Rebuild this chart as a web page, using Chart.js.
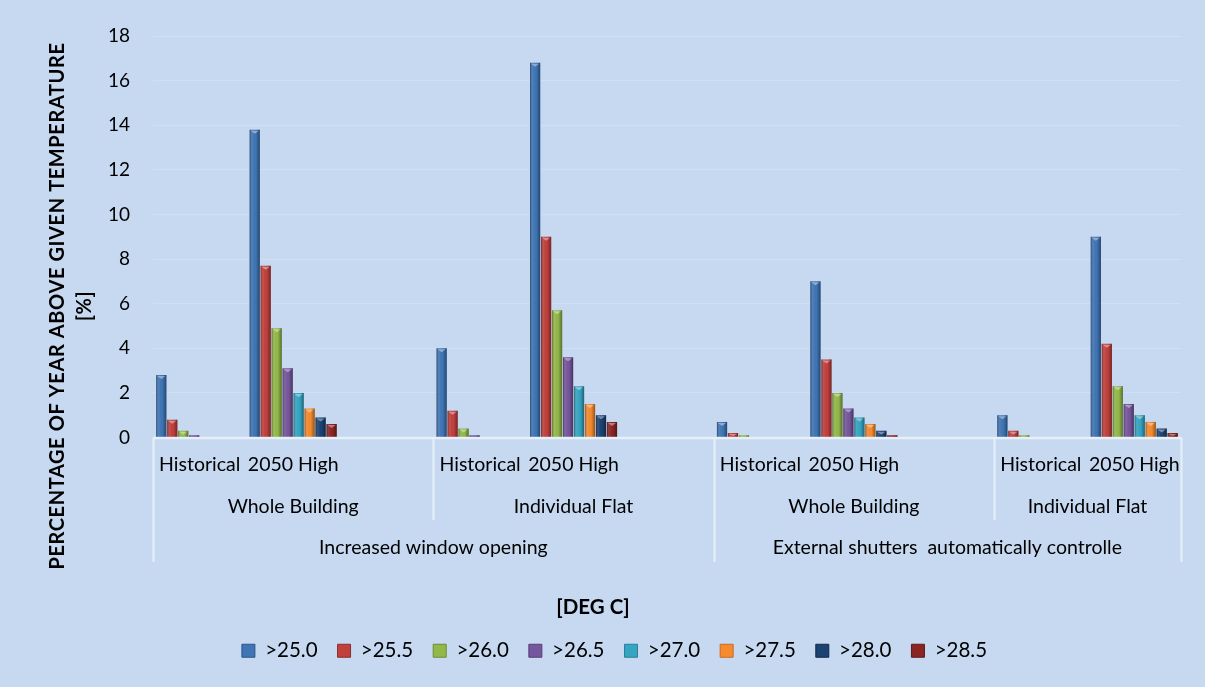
<!DOCTYPE html>
<html>
<head>
<meta charset="utf-8">
<script src="https://cdn.jsdelivr.net/npm/chart.js@4"></script>
<style>
  html, body { margin: 0; padding: 0; background: #C6D9F1; }
  #wrap { width: 1205px; height: 687px; position: relative; }
</style>
</head>
<body>
<div id="wrap"><canvas id="c" width="1205" height="687"></canvas></div>
<script>
// Category hierarchy of the horizontal axis
const climates = ['Historical', '2050 High'];
const scopes = ['Whole Building', 'Individual Flat'];
const measures = ['Increased window opening', 'External shutters  automatically controlle'];

// Threshold series (percentage of the year above each temperature)
const seriesNames = ['>25.0', '>25.5', '>26.0', '>26.5', '>27.0', '>27.5', '>28.0', '>28.5'];
// order of values: window/whole hist, window/whole 2050, window/flat hist, window/flat 2050,
//                  shutters/whole hist, shutters/whole 2050, shutters/flat hist, shutters/flat 2050
const above250 = [2.8, 13.8, 4.0, 16.8, 0.7, 7.0, 1.0, 9.0];
const above255 = [0.8, 7.7, 1.2, 9.0, 0.2, 3.5, 0.3, 4.2];
const above260 = [0.3, 4.9, 0.4, 5.7, 0.1, 2.0, 0.1, 2.3];
const above265 = [0.1, 3.1, 0.1, 3.6, 0, 1.3, 0, 1.5];
const above270 = [0, 2.0, 0, 2.3, 0, 0.9, 0, 1.0];
const above275 = [0, 1.3, 0, 1.5, 0, 0.6, 0, 0.7];
const above280 = [0, 0.9, 0, 1.0, 0, 0.3, 0, 0.4];
const above285 = [0, 0.6, 0, 0.7, 0, 0.1, 0, 0.2];

const yTicks = [0, 2, 4, 6, 8, 10, 12, 14, 16, 18];

const seriesValues = [above250, above255, above260, above265, above270, above275, above280, above285];
const seriesColors = ['#3F75B5', '#C0403C', '#93B84A', '#76569C', '#36A5C2', '#F58A2E', '#1B4273', '#8A2523'];
const seriesBorders = ['#2C5587', '#8C2D2B', '#6E8A34', '#563F77', '#2B7F96', '#C96D1D', '#10294A', '#5E1A19'];

// Build the flat category list: each scope gets its two climates plus a spacer slot
const labels = [];
const slotOf = []; // index into the 8 values for every real slot
const groups = []; // {scope, measure, start, end} in slot indices
let v = 0;
measures.forEach((m, mi) => {
  scopes.forEach((s, si) => {
    const start = labels.length;
    climates.forEach(c => { labels.push(c); slotOf.push(v++); });
    const isLast = (mi === measures.length - 1 && si === scopes.length - 1);
    if (!isLast) { labels.push(''); slotOf.push(null); }
    groups.push({ scope: s, measure: m, start, end: labels.length - 1 });
  });
});

const datasets = seriesNames.map((name, i) => ({
  label: name,
  data: slotOf.map(k => (k === null ? null : seriesValues[i][k])),
  backgroundColor: seriesColors[i],
  borderColor: seriesBorders[i],
  borderWidth: 0,
  categoryPercentage: 0.94,
  barPercentage: 0.93
}));

const FONT = 'Lato, "Open Sans", sans-serif';

// Background of the whole canvas
const bgPlugin = {
  id: 'bg',
  beforeDraw(chart) {
    const { ctx, width, height } = chart;
    ctx.save();
    ctx.fillStyle = '#C6D9F1';
    ctx.fillRect(0, 0, width, height);
    ctx.restore();
  }
};

// Nudge the legend row to the right of the canvas centre
const legendShift = {
  id: 'legendShift',
  afterLayout(chart) {
    if (chart.legend) {
      chart.legend.left += 24;
      chart.legend.right += 24;
    }
  }
};

// Rounded-column shading on each bar
const shadePlugin = {
  id: 'shade',
  afterDatasetsDraw(chart) {
    const ctx = chart.ctx;
    chart.data.datasets.forEach((ds, di) => {
      const meta = chart.getDatasetMeta(di);
      meta.data.forEach((bar, j) => {
        const val = ds.data[j];
        if (val === null || !val) return;
        const { x, y, base, width } = bar.getProps(['x', 'y', 'base', 'width'], true);
        const l = x - width / 2, h = base - y;
        if (h <= 0) return;
        ctx.save();
        const g = ctx.createLinearGradient(l, 0, l + width, 0);
        g.addColorStop(0, 'rgba(0,0,0,0.4)');
        g.addColorStop(0.3, 'rgba(255,255,255,0.06)');
        g.addColorStop(0.6, 'rgba(0,0,0,0.0)');
        g.addColorStop(1, 'rgba(0,0,0,0.4)');
        ctx.fillStyle = g;
        ctx.fillRect(l, y, width, h);
        if (h > 3) {
          ctx.fillStyle = 'rgba(255,255,255,0.4)';
          ctx.beginPath();
          ctx.moveTo(l + 1, y + 1);
          ctx.lineTo(l + width - 1, y + 1);
          ctx.lineTo(x, y + Math.min(4, h - 1));
          ctx.closePath();
          ctx.fill();
        }
        ctx.restore();
      });
    });
  }
};

// Axis baseline, group separators, multi-level category labels and axis titles
const axisPlugin = {
  id: 'multiAxis',
  afterDraw(chart) {
    const { ctx, chartArea } = chart;
    const xs = chart.scales.x;
    const base = chartArea.bottom;
    const px = i => xs.getPixelForValue(i);
    const edge = i => {
      if (i < 0) return chartArea.left;
      if (i >= labels.length - 1) return chartArea.right;
      return (px(i) + px(i + 1)) / 2;
    };
    ctx.save();
    ctx.strokeStyle = 'rgba(236,242,250,0.85)';
    ctx.lineWidth = 2.5;
    ctx.beginPath();
    ctx.moveTo(chartArea.left, base + 0.5);
    ctx.lineTo(chartArea.right, base + 0.5);
    ctx.stroke();

    ctx.lineWidth = 2;
    // separators
    const vline = (x, y2) => {
      ctx.beginPath();
      ctx.moveTo(Math.round(x) + 0.5, base);
      ctx.lineTo(Math.round(x) + 0.5, y2);
      ctx.stroke();
    };
    vline(chartArea.left, 562);
    groups.forEach((g, gi) => {
      const right = edge(g.end);
      const last = gi === groups.length - 1 || groups[gi + 1].measure !== g.measure;
      vline(right, last ? 562 : 520);
    });

    ctx.fillStyle = '#000';
    ctx.font = '19.5px ' + FONT;
    ctx.textAlign = 'center';
    ctx.textBaseline = 'middle';
    labels.forEach((t, i) => { if (t) ctx.fillText(t, px(i), 465); });
    groups.forEach(g => {
      ctx.fillText(g.scope, (edge(g.start - 1) + edge(g.end)) / 2, 507);
    });
    measures.forEach(m => {
      const gs = groups.filter(g => g.measure === m);
      const l = edge(gs[0].start - 1), r = edge(gs[gs.length - 1].end);
      ctx.fillText(m, (l + r) / 2, 548);
    });

    ctx.font = 'bold 20.5px ' + FONT;
    ctx.fillText('[DEG C]', 593, 607);

    ctx.translate(58, 306);
    ctx.rotate(-Math.PI / 2);
    ctx.font = 'bold 20px ' + FONT;
    ctx.letterSpacing = '0.6px';
    ctx.fillText('PERCENTAGE OF YEAR ABOVE GIVEN TEMPERATURE', 0, 0);
    ctx.fillText('[%]', 0, 27);
    ctx.restore();
  }
};

new Chart(document.getElementById('c'), {
  type: 'bar',
  data: { labels, datasets },
  plugins: [bgPlugin, legendShift, shadePlugin, axisPlugin],
  options: {
    responsive: false,
    animation: false,
    layout: { padding: { top: 36, right: 24, bottom: 16, left: 0 } },
    plugins: {
      tooltip: { enabled: false },
      legend: {
        position: 'bottom',
        labels: {
          color: '#000',
          font: { family: FONT, size: 20.5 },
          boxWidth: 13,
          boxHeight: 13,
          padding: 20,
          generateLabels(chart) {
            return chart.data.datasets.map((ds, i) => ({
              text: ds.label,
              fillStyle: ds.backgroundColor,
              strokeStyle: seriesBorders[i],
              lineWidth: 1,
              datasetIndex: i,
              hidden: false
            }));
          }
        }
      }
    },
    scales: {
      x: {
        grid: { display: false },
        border: { display: false },
        ticks: { display: false },
        afterFit(s) { s.height = 183; }
      },
      y: {
        min: 0,
        max: 18,
        afterBuildTicks(s) { s.ticks = yTicks.map(value => ({ value })); },
        grid: { color: 'rgba(215,228,245,0.55)', drawTicks: false },
        border: { display: false },
        ticks: {
          color: '#000',
          font: { family: FONT, size: 19 },
          padding: 23
        },
        afterFit(s) { s.width = 153; }
      }
    }
  }
});
</script>
</body>
</html>
